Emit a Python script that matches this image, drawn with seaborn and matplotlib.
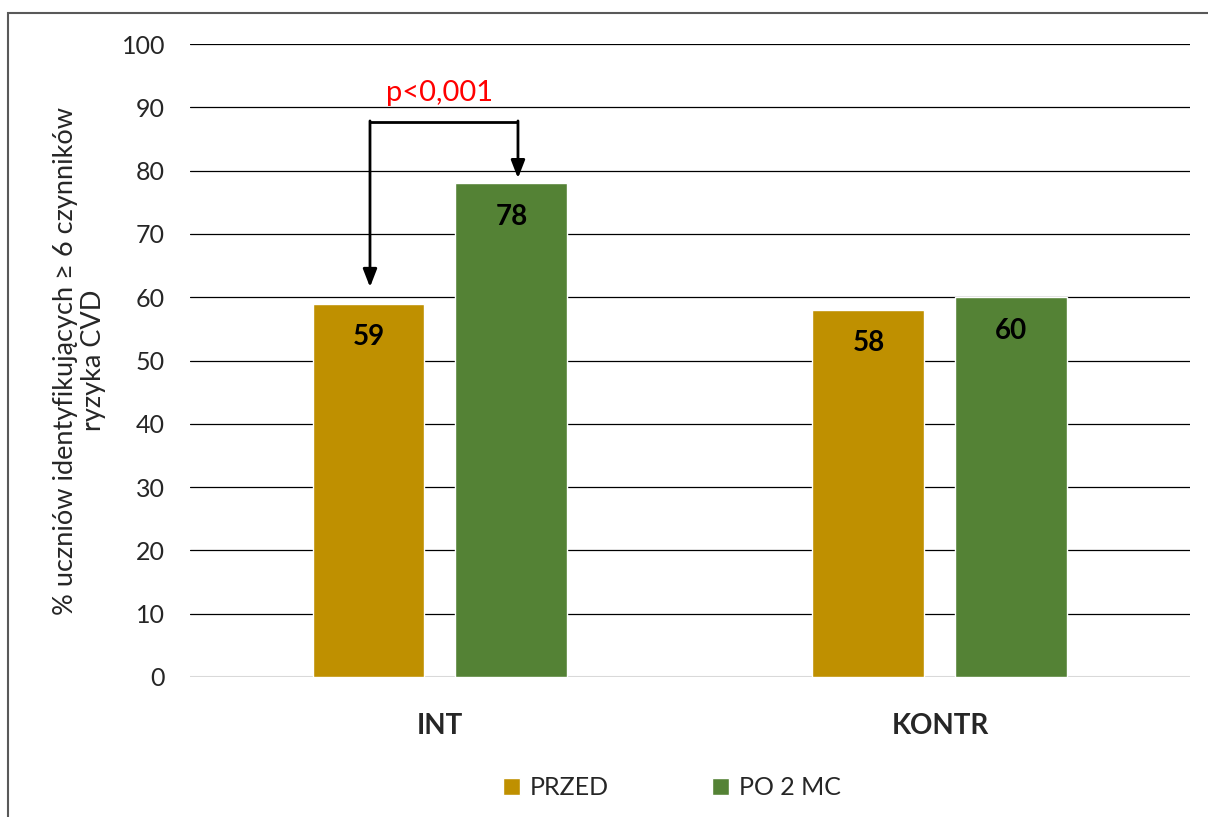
import matplotlib
matplotlib.use("Agg")
import matplotlib.pyplot as plt
import seaborn as sns
import pandas as pd
from matplotlib.patches import Rectangle

groups = ["INT", "KONTR"]
series = ["PRZED", "PO 2 MC"]
przed = [59, 58]
po_2_mc = [78, 60]
y_ticks = [0, 10, 20, 30, 40, 50, 60, 70, 80, 90, 100]
y_label = "% uczniów identyfikujących ≥ 6 czynników\nryzyka CVD"
p_text = "p<0,001"

colors = ["#BF9000", "#548235"]

df = pd.DataFrame({
    "grupa": groups * 2,
    "okres": [series[0]] * len(groups) + [series[1]] * len(groups),
    "wartosc": przed + po_2_mc,
})

sns.set_theme(style="white")
plt.rcParams["font.family"] = ["Lato", "DejaVu Sans"]

fig = plt.figure(figsize=(12.08, 8.17), dpi=100)
ax = fig.add_axes([0.1573, 0.1714, 0.985 - 0.1573, 0.9461 - 0.1714])

sns.barplot(data=df, x="grupa", y="wartosc", hue="okres", order=groups,
            hue_order=series, palette=colors, width=0.572, gap=0.217,
            saturation=1, ax=ax, legend=True)

ax.set_xlim(-0.5, 1.5)
ax.set_ylim(0, 100)
ax.set_yticks(y_ticks)
ax.set_yticklabels([str(t) for t in y_ticks], fontsize=18)
for t in ax.get_xticklabels():
    t.set_fontsize(20)
    t.set_fontweight("bold")
ax.tick_params(axis="x", length=0, pad=26)
ax.tick_params(axis="y", length=0, pad=18)
ax.set_xlabel("")
ax.set_ylabel(y_label, fontsize=19.5, labelpad=11, linespacing=1.15)

for s in ax.spines.values():
    s.set_visible(False)
for t in y_ticks[1:]:
    ax.axhline(t, color="black", lw=0.9, zorder=0)
ax.axhline(0, color="#D9D9D9", lw=1.5, zorder=0)

# value labels inside the tops of the bars
values = [przed, po_2_mc]
for cont, vals in zip(ax.containers, values):
    for rect, v in zip(cont, vals):
        ax.annotate(str(v), (rect.get_x() + rect.get_width() / 2, v),
                    xytext=(0, -24), textcoords="offset points",
                    ha="center", va="center", fontsize=20, fontweight="bold",
                    color="black")

# significance bracket between the INT bars
x_left, x_right = -0.14, 0.156
y_bracket = 87.7
ax.plot([x_left, x_right], [y_bracket, y_bracket], color="black", lw=2,
        solid_capstyle="butt")
ax.annotate("", xy=(x_left, przed[0] + 2.6), xytext=(x_left, y_bracket + 0.15),
            arrowprops=dict(arrowstyle="-|>,head_length=0.9,head_width=0.35",
                            color="black", lw=2, shrinkA=0, shrinkB=0))
ax.annotate("", xy=(x_right, po_2_mc[0] + 0.8), xytext=(x_right, y_bracket + 0.15),
            arrowprops=dict(arrowstyle="-|>,head_length=0.9,head_width=0.35",
                            color="black", lw=2, shrinkA=0, shrinkB=0))
ax.text(0.0, 92.3, p_text, color="red", fontsize=21, ha="center", va="center")

# legend below the plot
handles, labels = ax.get_legend_handles_labels()
ax.get_legend().remove()
fig.legend(handles, labels, loc="center", bbox_to_anchor=(672 / 1208, 0.036),
           ncol=2, frameon=False, fontsize=18, handlelength=0.7,
           handleheight=0.7, handletextpad=0.4, columnspacing=4.1)

# outer frame
fig.patches.append(Rectangle((8 / 1208, -0.05), 1.2, 1 - 13 / 817 + 0.05,
                             transform=fig.transFigure, fill=False,
                             edgecolor="#595959", lw=1.5))

fig.savefig("out.png", dpi=100)
